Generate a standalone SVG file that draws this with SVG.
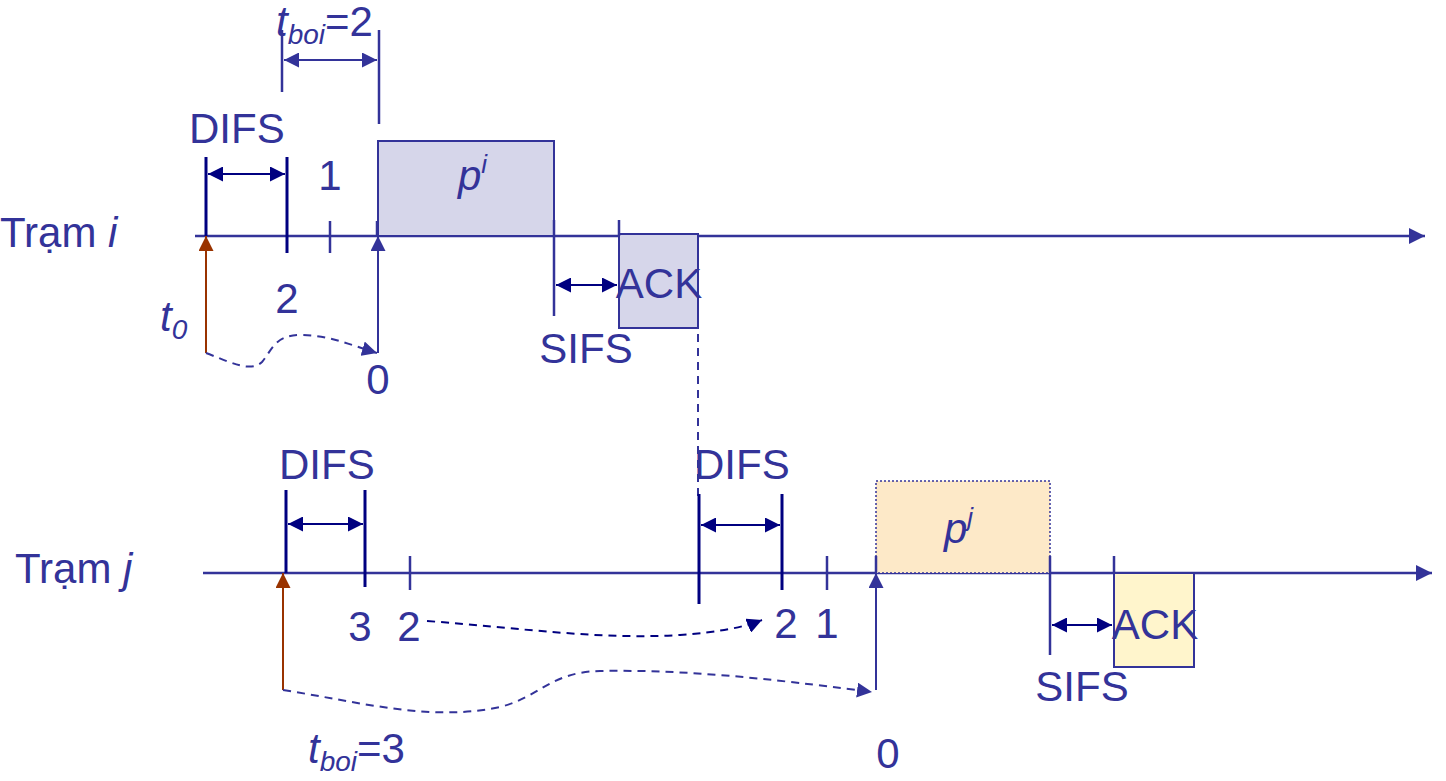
<svg xmlns="http://www.w3.org/2000/svg" width="1446" height="781" viewBox="0 0 1446 781">
<defs>
<style>
text{font-family:"Liberation Sans",Arial,sans-serif;font-size:42px;fill:#333399}
.it{font-style:italic}
.ax{stroke:#333399;stroke-width:2.5;fill:none}
.nv{stroke:#000080;stroke-width:3;fill:none}
.tk{stroke:#333399;stroke-width:2.5;fill:none}
.dim{stroke:#000080;stroke-width:2;fill:none}
.dimb{stroke:#333399;stroke-width:2;fill:none}
.dash{stroke:#333399;stroke-width:2;fill:none;stroke-dasharray:8 6}
.dashn{stroke:#000080;stroke-width:2;fill:none;stroke-dasharray:8 6}
</style>
<marker id="ah" viewBox="0 0 10 10" refX="10" refY="5" markerWidth="15" markerHeight="15" markerUnits="userSpaceOnUse" orient="auto-start-reverse"><path d="M0,0 L10,5 L0,10 Z" fill="#333399"/></marker>
<marker id="ahn" viewBox="0 0 10 10" refX="10" refY="5" markerWidth="15" markerHeight="15" markerUnits="userSpaceOnUse" orient="auto-start-reverse"><path d="M0,0 L10,5 L0,10 Z" fill="#000080"/></marker>
<marker id="ahb" viewBox="0 0 10 10" refX="10" refY="5" markerWidth="15" markerHeight="15" markerUnits="userSpaceOnUse" orient="auto"><path d="M0,0 L10,5 L0,10 Z" fill="#993300"/></marker>
<marker id="axh" viewBox="0 0 10 10" refX="10" refY="5" markerWidth="16" markerHeight="16" markerUnits="userSpaceOnUse" orient="auto"><path d="M0,0 L10,5 L0,10 Z" fill="#333399"/></marker>
</defs>

<g id="station-i">
<text x="0" y="247">Trạm <tspan class="it">i</tspan></text>
<line class="ax" x1="195" y1="236" x2="1425" y2="236" marker-end="url(#axh)"/>
</g>

<g id="packet-i">
<rect x="378" y="141" width="176" height="95" fill="#d6d6ea" stroke="#333399" stroke-width="2"/>
<text class="it" x="458" y="190">p<tspan font-size="26" dy="-17">i</tspan></text>
</g>

<g id="ack-i">
<rect x="619" y="234" width="79" height="94" fill="#d6d6ea" stroke="#333399" stroke-width="2"/>
<text x="659" y="298" text-anchor="middle">ACK</text>
</g>

<g id="station-j">
<text x="15" y="583">Trạm <tspan class="it">j</tspan></text>
<line class="ax" x1="203" y1="573" x2="1432" y2="573" marker-end="url(#axh)"/>
</g>

<g id="packet-j">
<rect x="876" y="481" width="174" height="92" fill="#fde9c8" stroke="#333399" stroke-width="1.5" stroke-dasharray="2 2"/>
<text class="it" x="944" y="543">p<tspan font-size="26" dy="-17">j</tspan></text>
</g>

<g id="ack-j">
<rect x="1114" y="573" width="80" height="94" fill="#fff5cc" stroke="#333399" stroke-width="2"/>
<text x="1155" y="639" text-anchor="middle">ACK</text>
</g>

<g id="labels">
<text x="276" y="36"><tspan class="it">t</tspan><tspan class="it" font-size="28" dy="8">boi</tspan><tspan dy="-8">=2</tspan></text>
<text x="189" y="143">DIFS</text>
<text x="330" y="190" text-anchor="middle">1</text>
<text x="287" y="313" text-anchor="middle">2</text>
<text x="378" y="394" text-anchor="middle">0</text>
<text x="160" y="331"><tspan class="it">t</tspan><tspan class="it" font-size="28" dy="8">0</tspan></text>
<text x="586" y="363" text-anchor="middle">SIFS</text>
<text x="279" y="479">DIFS</text>
<text x="694" y="479">DIFS</text>
<text x="360" y="641" text-anchor="middle">3</text>
<text x="409" y="641" text-anchor="middle">2</text>
<text x="786" y="638" text-anchor="middle">2</text>
<text x="827" y="638" text-anchor="middle">1</text>
<text x="308" y="763"><tspan class="it">t</tspan><tspan class="it" font-size="28" dy="8">boi</tspan><tspan dy="-8">=3</tspan></text>
<text x="888" y="768" text-anchor="middle">0</text>
<text x="1082" y="701" text-anchor="middle">SIFS</text>
</g>

<g id="connectors">
<line class="tk" x1="282" y1="30" x2="282" y2="92"/>
<line class="tk" x1="379" y1="30" x2="379" y2="124"/>
<line class="dimb" x1="284" y1="60" x2="377" y2="60" marker-start="url(#ah)" marker-end="url(#ah)"/>
<line class="nv" x1="206" y1="157" x2="206" y2="236"/>
<line class="nv" x1="287" y1="157" x2="287" y2="253"/>
<line class="dim" x1="208" y1="174" x2="285" y2="174" marker-start="url(#ahn)" marker-end="url(#ahn)"/>
<line class="tk" x1="330" y1="221" x2="330" y2="253"/>
<line class="tk" x1="377" y1="221" x2="377" y2="236"/>
<line x1="378" y1="353" x2="378" y2="236" stroke="#333399" stroke-width="2" marker-end="url(#ah)"/>
<line x1="206" y1="353" x2="206" y2="236" stroke="#993300" stroke-width="2" marker-end="url(#ahb)"/>
<path class="dash" d="M206,353 C230,362 250,373 262,362 C272,350 275,335 300,335 C330,335 350,345 377,353" marker-end="url(#ah)"/>
<line class="tk" x1="554" y1="220" x2="554" y2="316" stroke-width="3"/>
<line class="tk" x1="619" y1="220" x2="619" y2="236" stroke-width="3"/>
<line class="dim" x1="556" y1="285" x2="617" y2="285" marker-start="url(#ahn)" marker-end="url(#ahn)"/>
<line class="dash" x1="698" y1="236" x2="698" y2="500"/>
<line class="nv" x1="286" y1="490" x2="286" y2="573"/>
<line class="nv" x1="365" y1="490" x2="365" y2="587"/>
<line class="dim" x1="288" y1="524" x2="363" y2="524" marker-start="url(#ahn)" marker-end="url(#ahn)"/>
<line class="tk" x1="410" y1="556" x2="410" y2="590"/>
<line class="nv" x1="699" y1="494" x2="699" y2="604"/>
<line class="nv" x1="782" y1="494" x2="782" y2="590"/>
<line class="dim" x1="701" y1="525" x2="780" y2="525" marker-start="url(#ahn)" marker-end="url(#ahn)"/>
<line class="tk" x1="827" y1="556" x2="827" y2="590"/>
<line class="tk" x1="876" y1="556" x2="876" y2="573"/>
<line x1="876" y1="690" x2="876" y2="573" stroke="#333399" stroke-width="2" marker-end="url(#ah)"/>
<line x1="283" y1="690" x2="283" y2="573" stroke="#993300" stroke-width="2" marker-end="url(#ahb)"/>
<path class="dashn" d="M427,621 C520,628 600,640 680,635 C720,632 745,627 762,620" marker-end="url(#ahn)"/>
<path class="dash" d="M283,690 C360,702 430,722 500,707 C540,697 550,672 600,671 C700,669 800,683 872,692" marker-end="url(#ah)"/>
<line class="tk" x1="1050" y1="556" x2="1050" y2="655" stroke-width="3"/>
<line class="tk" x1="1114" y1="556" x2="1114" y2="573" stroke-width="3"/>
<line class="dim" x1="1052" y1="625" x2="1112" y2="625" marker-start="url(#ahn)" marker-end="url(#ahn)"/>
</g>
</svg>
